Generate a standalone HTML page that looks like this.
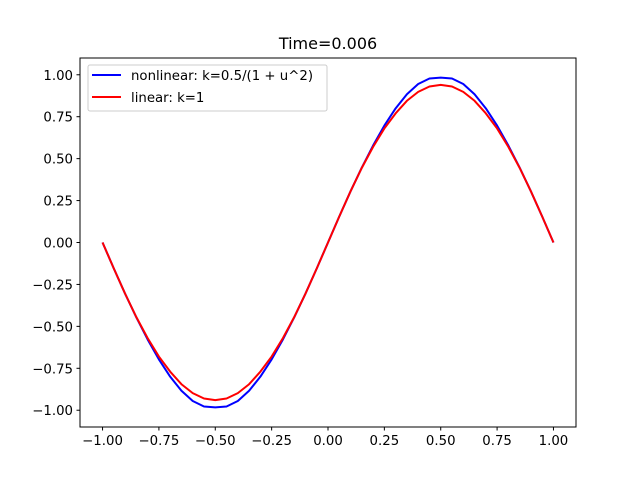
<!DOCTYPE html>
<html><head><meta charset="utf-8"><style>body{margin:0;background:#fff}svg{display:block;font-family:"DejaVu Sans","Liberation Sans",sans-serif}</style></head>
<body>
<svg id="chart" width="640" height="480" xmlns="http://www.w3.org/2000/svg">
<rect width="640" height="480" fill="#fff"/>
<text x="328" y="49" text-anchor="middle" font-size="16">Time=0.006</text>
<g id="axes"></g>
<g id="series"></g>
<rect x="80" y="58" width="496" height="369" fill="none" stroke="#000" stroke-width="1"/>
<g>
<rect x="88" y="65" width="239" height="46" rx="2" fill="#fff" fill-opacity="0.8" stroke="#ccc"/>
<line x1="92" y1="75" x2="121" y2="75" stroke="#0000ff" stroke-width="2"/>
<text x="131" y="80" font-size="13.3">nonlinear: k=0.5/(1 + u^2)</text>
<line x1="92" y1="97" x2="121" y2="97" stroke="#ff0000" stroke-width="2"/>
<text x="131" y="102" font-size="13.3">linear: k=1</text>
</g>
</svg>
<script>
const xTicks=[-1,-0.75,-0.5,-0.25,0,0.25,0.5,0.75,1];
const xTickLabels=["−1.00","−0.75","−0.50","−0.25","0.00","0.25","0.50","0.75","1.00"];
const yTicks=[-1,-0.75,-0.5,-0.25,0,0.25,0.5,0.75,1];
const yTickLabels=["−1.00","−0.75","−0.50","−0.25","0.00","0.25","0.50","0.75","1.00"];
const xs=[-1,-0.95,-0.9,-0.85,-0.8,-0.75,-0.7,-0.65,-0.6,-0.55,-0.5,-0.45,-0.4,-0.35,-0.3,-0.25,-0.2,-0.15,-0.1,-0.05,0,0.05,0.1,0.15,0.2,0.25,0.3,0.35,0.4,0.45,0.5,0.55,0.6,0.65,0.7,0.75,0.8,0.85,0.9,0.95,1];
const nonlinear=[0,-0.155,-0.305,-0.447,-0.578,-0.697,-0.8,-0.884,-0.945,-0.978,-0.983,-0.978,-0.945,-0.884,-0.8,-0.697,-0.578,-0.447,-0.305,-0.155,0,0.155,0.305,0.447,0.578,0.697,0.8,0.884,0.945,0.978,0.983,0.978,0.945,0.884,0.8,0.697,0.578,0.447,0.305,0.155,0];
const linear=[0,-0.155,-0.305,-0.445,-0.57,-0.68,-0.77,-0.845,-0.898,-0.93,-0.94,-0.93,-0.898,-0.845,-0.77,-0.68,-0.57,-0.445,-0.305,-0.155,0,0.155,0.305,0.445,0.57,0.68,0.77,0.845,0.898,0.93,0.94,0.93,0.898,0.845,0.77,0.68,0.57,0.445,0.305,0.155,0];
const NS="http://www.w3.org/2000/svg";
const X=v=>80+(v+1.1)/2.2*496, Y=v=>427-(v+1.1)/2.2*369;
const axes=document.getElementById('axes'), series=document.getElementById('series');
function mk(t,a,p){const e=document.createElementNS(NS,t);for(const k in a)e.setAttribute(k,a[k]);p.appendChild(e);return e;}
xTicks.forEach((v,i)=>{
 const l=mk('line',{x1:X(v),x2:X(v),y1:427,y2:430.5,stroke:'#000'},axes);
 
 
 const t=mk('text',{x:X(v),y:445,'text-anchor':'middle','font-size':'13.3'},axes);t.textContent=xTickLabels[i];
 
 
});
yTicks.forEach((v,i)=>{
 const l=mk('line',{x1:76.5,x2:80,y1:Y(v),y2:Y(v),stroke:'#000'},axes);
 
 
 const t=mk('text',{x:73,y:Y(v)+5,'text-anchor':'end','font-size':'13.3'},axes);t.textContent=yTickLabels[i];
 
 
});
function line(vals,color,name){
 const p=mk('polyline',{points:xs.map((x,i)=>X(x)+','+Y(vals[i])).join(' '),fill:'none',stroke:color,'stroke-width':2,'stroke-linejoin':'round'},series);
 
 
}
line(nonlinear,'#0000ff','nonlinear-line');
line(linear,'#ff0000','linear-line');
</script>
</body></html>
